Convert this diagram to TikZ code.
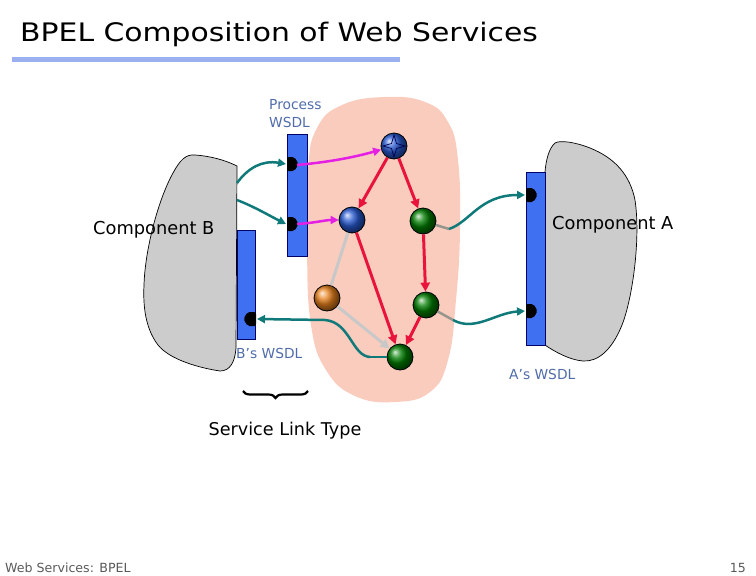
\documentclass[tikz,border=0pt]{standalone}
\usepackage{fontspec}
\setmainfont{DejaVu Sans}
\usetikzlibrary{arrows.meta,decorations.pathreplacing,shapes.geometric}
\definecolor{pinkbg}{RGB}{250,204,190}
\definecolor{wsdlblue}{RGB}{64,112,242}
\definecolor{compgrey}{RGB}{204,204,204}
\definecolor{tealc}{RGB}{16,122,122}
\definecolor{redc}{RGB}{232,20,60}
\definecolor{magc}{RGB}{228,32,228}
\definecolor{greyc}{RGB}{200,200,200}
\definecolor{greyseg}{RGB}{150,150,140}
\definecolor{lblblue}{RGB}{80,108,170}
\definecolor{titlebar}{RGB}{155,176,240}
\definecolor{sphblue}{RGB}{40,90,210}
\definecolor{sphgreen}{RGB}{0,125,0}
\definecolor{sphorange}{RGB}{232,130,30}
\begin{document}
\begin{tikzpicture}[x=1pt,y=-1pt,
  sph/.style={circle,draw=black,line width=0.8pt,minimum size=26pt,inner sep=0pt},
  wsdlbar/.style={draw=black!60!blue,fill=wsdlblue,line width=0.6pt,inner sep=0pt},
  comp/.style={draw=black,fill=compgrey,line width=0.7pt},
  redarrow/.style={draw=redc,line width=3pt,-{Triangle[length=9pt,width=9pt]}},
  magarrow/.style={draw=magc,line width=2.5pt,-{Triangle[length=8pt,width=8pt]}},
  tealarrow/.style={draw=tealc,line width=2.5pt,-{Triangle[length=8pt,width=8pt]}},
  tealline/.style={draw=tealc,line width=2.5pt},
  greyline/.style={draw=greyc,line width=3pt},
  greyarrow/.style={draw=greyc,line width=3pt,-{Triangle[length=9pt,width=9pt]}},
  greyseg/.style={draw=greyseg,line width=2.5pt},
  lbl/.style={text=lblblue,font=\fontsize{13.8}{16.5}\selectfont,inner sep=0pt},
  complbl/.style={text=black,font=\fontsize{17.8}{21}\selectfont,inner sep=0pt},
  portR/.style={fill=black,rounded corners=2pt},
]
\useasboundingbox (0,0) rectangle (756,576);
% title
\node[anchor=base west,inner sep=0pt,font=\fontsize{25.5}{30}\selectfont] (title) at (20,41) {\scalebox{1.17}[1]{BPEL Composition of Web Services}};
\fill[titlebar] (12,57) rectangle (400,62);
% process blob
\fill[pinkbg] plot[smooth cycle,tension=0.75] coordinates {(385,97) (425,102) (448,122) (458,160) (460,230) (456,300) (448,360) (430,392) (395,402) (355,396) (326,370) (311,325) (307,250) (308,170) (317,128) (342,105)};
% component B
\draw[comp] (237,166) -- (236,348) .. controls (235,362) and (230,371) .. (220,371) .. controls (200,368) and (170,360) .. (158,345) .. controls (145,328) and (143,305) .. (144,285) .. controls (145,250) and (158,200) .. (173,173) .. controls (180,160) and (186,154) .. (195,155) .. controls (210,156) and (225,160) .. (237,166) -- cycle;
% component A
\draw[comp] (545,172) .. controls (546,160) and (549,148) .. (555,143) .. controls (560,140) and (575,142) .. (590,148) .. controls (615,158) and (630,175) .. (635,200) .. controls (641,240) and (632,300) .. (622,325) .. controls (612,350) and (598,362) .. (583,361) .. controls (570,360) and (555,352) .. (545,345) -- cycle;
% WSDL bars
\node[wsdlbar,minimum width=20pt,minimum height=122pt] (pbar) at (297,195) {};
\node[wsdlbar,minimum width=18pt,minimum height=109pt] (bbar) at (246,284.5) {};
\node[wsdlbar,minimum width=19pt,minimum height=173pt] (abar) at (535.5,258.5) {};
% ports
\coordinate (pp1) at (292,164);
\coordinate (pp2) at (292,224);
\coordinate (ap1) at (531,195);
\coordinate (ap2) at (531,311);
\coordinate (bp1) at (250,319);
\foreach \p in {pp1,pp2,ap1,ap2}{
  \fill[portR] ([shift={(-5,-7)}]\p) -- ([shift={(2.5,-7)}]\p) -- ([shift={(6.5,0)}]\p) -- ([shift={(2.5,7)}]\p) -- ([shift={(-5,7)}]\p) -- cycle;
}
\fill[portR] ([shift={(6,-7)}]bp1) -- ([shift={(-2.5,-7)}]bp1) -- ([shift={(-6.5,0)}]bp1) -- ([shift={(-2.5,7)}]bp1) -- ([shift={(6,7)}]bp1) -- cycle;
\coordinate (pp1in) at (286,164);
\coordinate (pp2in) at (286,224);
\coordinate (pp1out) at (297,165);
\coordinate (pp2out) at (297,224);
\coordinate (ap1in) at (525,195);
\coordinate (ap2in) at (525,311);
\coordinate (bp1in) at (257,319);
% spheres
\node[sph,ball color=sphblue] (star) at (394,146) {};
\node[sph,ball color=sphblue] (bn) at (352,220) {};
\node[sph,ball color=sphgreen] (gtr) at (423,221) {};
\node[sph,ball color=sphorange] (orn) at (327,298) {};
\node[sph,ball color=sphgreen] (gmid) at (426,305) {};
\node[sph,ball color=sphgreen] (gbot) at (400,357) {};
\draw[draw=black!70!blue,line width=0.7pt] ([shift={(0,-11)}]star.center) -- ([shift={(2.5,-2.5)}]star.center) -- ([shift={(11,0)}]star.center) -- ([shift={(2.5,2.5)}]star.center) -- ([shift={(0,11)}]star.center) -- ([shift={(-2.5,2.5)}]star.center) -- ([shift={(-11,0)}]star.center) -- ([shift={(-2.5,-2.5)}]star.center) -- cycle;
% grey process links
\draw[greyline] (bn) -- (orn);
\draw[greyarrow] (orn) -- (gbot);
% red process links
\draw[redarrow] (star) -- (bn);
\draw[redarrow] (star) -- (gtr);
\draw[redarrow] (bn) -- (gbot);
\draw[redarrow] (gtr) -- (gmid);
\draw[redarrow] (gmid) -- (gbot);
% magenta
\draw[magarrow] (pp1out) .. controls (330,162) and (355,157) .. (star);
\draw[magarrow] (pp2out) .. controls (315,223) and (325,220) .. (bn);
% teal from B
\coordinate (b1) at (237,183);
\coordinate (b2) at (237,200);
\draw[tealarrow] (b1) .. controls (248,168) and (262,160) .. (pp1in);
\draw[tealarrow] (b2) .. controls (255,207) and (270,216) .. (pp2in);
% green to A
\coordinate (j1) at (449,229);
\coordinate (j2) at (453,320);
\draw[greyseg] (gtr) -- (j1);
\draw[greyseg] (gmid) -- (j2);
\draw[tealarrow] (j1) .. controls (470,222) and (480,195) .. (ap1in);
\draw[tealarrow] (j2) .. controls (475,332) and (495,313) .. (ap2in);
% bottom green back to B
\coordinate (t1) at (370,357);
\coordinate (t2) at (325,320);
\draw[tealline] (gbot.west) -- (t1);
\draw[tealarrow] (t1) .. controls (352,356) and (350,322) .. (t2) -- (bp1in);
% labels
\node[lbl,anchor=base west,align=left] (proc) at (269,109) {Process};
\node[lbl,anchor=base west] (procw) at (269,127) {WSDL};
\node[lbl,anchor=base west] (bw) at (236,358) {B’s WSDL};
\node[lbl,anchor=base west] (aw) at (509,379) {A’s WSDL};
\node[complbl,anchor=base west] (cb) at (93,234) {Component B};
\node[complbl,anchor=base west] (ca) at (552,229) {Component A};
\draw[decorate,decoration={brace,amplitude=7pt,mirror},line width=2.2pt] (243,391) -- (308,391);
\node[complbl,anchor=base,font=\fontsize{17.6}{21}\selectfont] (slt) at (285,435) {Service Link Type};
\node[anchor=base west,inner sep=0pt,text=black!65,font=\fontsize{12.6}{15}\selectfont] (foot) at (5,572) {Web Services: BPEL};
\node[anchor=base east,inner sep=0pt,text=black!65,font=\fontsize{12.6}{15}\selectfont] (pg) at (746,572) {15};
\end{tikzpicture}
\end{document}
